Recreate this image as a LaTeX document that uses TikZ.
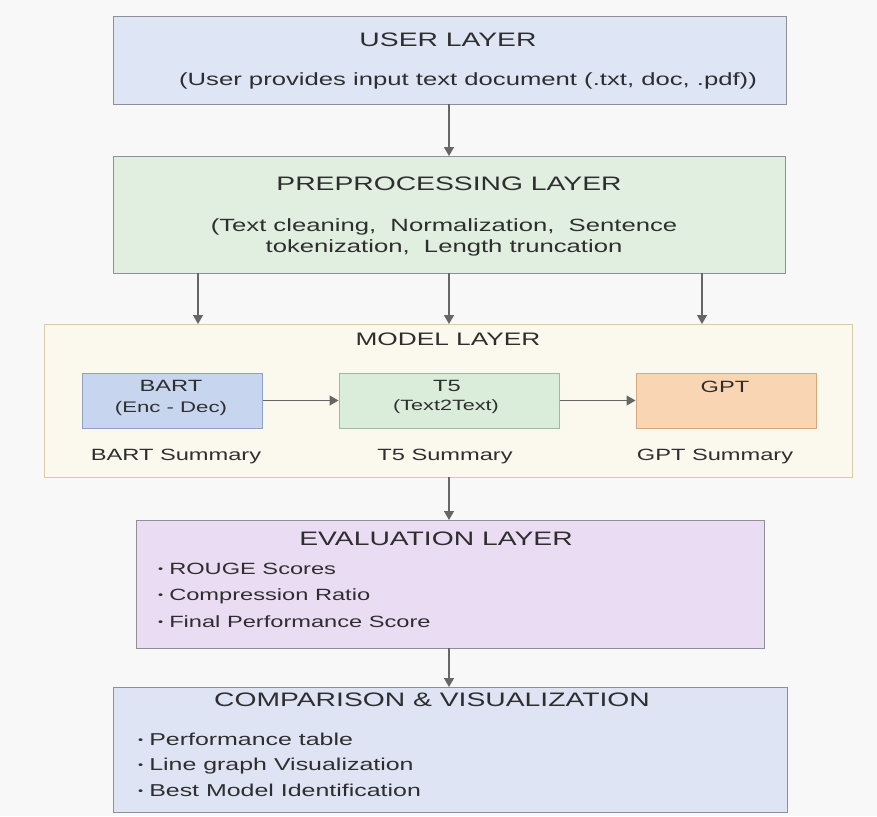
\documentclass[tikz,border=0pt]{standalone}
\usepackage{fontspec}
\setmainfont[FakeStretch=1.45]{Liberation Sans}
\usetikzlibrary{arrows.meta}
\definecolor{bgc}{HTML}{F8F8F8}
\definecolor{txt}{HTML}{2E2E2E}
\definecolor{edge}{HTML}{8E9098}
\definecolor{userfill}{HTML}{DEE5F4}
\definecolor{prefill}{HTML}{E0EFDF}
\definecolor{modfill}{HTML}{FBF8EE}
\definecolor{modedge}{HTML}{D8CBA8}
\definecolor{bartfill}{HTML}{C7D5EF}
\definecolor{bartedge}{HTML}{8FA0C2}
\definecolor{tfivefill}{HTML}{DAEDDA}
\definecolor{tfiveedge}{HTML}{9DBA9D}
\definecolor{gptfill}{HTML}{F9D5B3}
\definecolor{gptedge}{HTML}{D4A982}
\definecolor{evalfill}{HTML}{EADCF2}
\definecolor{cmpfill}{HTML}{DEE4F3}
\definecolor{arr}{HTML}{666666}
\newcommand{\bul}{\raisebox{1.5pt}{\fontsize{10}{10}\selectfont •}\hspace{6pt}}
\tikzset{
  layer/.style={draw=edge, line width=1pt},
  ttl/.style={text=txt, font=\fontsize{19.5}{22}\selectfont, inner sep=0pt},
  body/.style={text=txt, font=\fontsize{17.7}{21}\selectfont, inner sep=0pt, align=center},
  item/.style={text=txt, font=\fontsize{16.3}{20}\selectfont, inner sep=0pt, anchor=base west},
  lbl/.style={text=txt, font=\fontsize{16.3}{20}\selectfont, inner sep=0pt},
  mbox/.style={line width=1pt, minimum height=55pt, inner sep=0pt},
  conn/.style={draw=arr, line width=1.4pt, -{Triangle[length=9pt,width=10pt]}},
}
\begin{document}
\begin{tikzpicture}[x=1pt,y=-1pt]
\fill[bgc] (0,0) rectangle (877,816);
\useasboundingbox (0,0) rectangle (877,816);
% user layer
\draw[layer, fill=userfill] (113,17) rectangle (786,104);
\node[coordinate] (userB) at (449,104) {};
\node[ttl] (usert) at (448,40) {USER LAYER};
\node[body] (users) at (468,81) {(User provides input text document (.txt, doc, .pdf))};
% preprocessing
\draw[layer, fill=prefill] (113,156) rectangle (785,273);
\node[coordinate] (preT) at (449,156) {};
\node[ttl] (pret) at (449,184) {PREPROCESSING LAYER};
\node[body] (pres) at (444,237.5) {(Text cleaning,\ \ Normalization,\ \ Sentence\\tokenization,\ \ Length truncation};
% model layer
\draw[draw=modedge, line width=1pt, fill=modfill] (44,324) rectangle (852,477);
\node[ttl, font=\fontsize{18.1}{22}\selectfont] (modt) at (448,339) {MODEL LAYER};
\node[coordinate] (p1) at (198,273) {};
\node[coordinate] (p2) at (449,273) {};
\node[coordinate] (p3) at (702,273) {};
\node[coordinate] (m1) at (198,324) {};
\node[coordinate] (m2) at (449,324) {};
\node[coordinate] (m3) at (702,324) {};
\node[mbox, draw=bartedge, fill=bartfill, minimum width=180pt] (bart) at (172,400.5) {};
\node[mbox, draw=tfiveedge, fill=tfivefill, minimum width=220pt] (t5) at (449,400.5) {};
\node[mbox, draw=gptedge, fill=gptfill, minimum width=180pt] (gpt) at (726,400.5) {};
\node[lbl] (bartn) at (171,386) {BART};
\node[lbl, font=\fontsize{15.3}{19}\selectfont] (bartd) at (171,408.5) {(Enc - Dec)};
\node[lbl] (t5n) at (447,386) {T5};
\node[lbl, font=\fontsize{14.9}{19}\selectfont] (t5d) at (446,407) {(Text2Text)};
\node[lbl] (gptn) at (725,387) {GPT};
\node[lbl] (barts) at (176,456) {BART Summary};
\node[lbl] (t5s) at (445,456) {T5 Summary};
\node[lbl] (gpts) at (715,456) {GPT Summary};
\node[coordinate] (modB) at (449,477) {};
% evaluation
\draw[layer, fill=evalfill] (136,520) rectangle (764,648);
\node[coordinate] (evT) at (449,520) {};
\node[coordinate] (evB) at (449,648) {};
\node[ttl] (evt) at (436,539) {EVALUATION LAYER};
\node[item] (e1) at (158,574) {\bul ROUGE Scores};
\node[item] (e2) at (158,600) {\bul Compression Ratio};
\node[item] (e3) at (158,627) {\bul Final Performance Score};
% comparison
\draw[layer, fill=cmpfill] (113,687) rectangle (787,812);
\node[coordinate] (cmT) at (449,687) {};
\node[ttl] (cmt) at (432,700) {COMPARISON \& VISUALIZATION};
\node[item, font=\fontsize{17.2}{20}\selectfont] (c1) at (138,745) {\bul Performance table};
\node[item, font=\fontsize{17.2}{20}\selectfont] (c2) at (138,770) {\bul Line graph Visualization};
\node[item, font=\fontsize{17.2}{20}\selectfont] (c3) at (138,796) {\bul Best Model Identification};
% connectors
\draw[conn] (userB) -- (preT);
\draw[conn] (p1) -- (m1);
\draw[conn] (p2) -- (m2);
\draw[conn] (p3) -- (m3);
\draw[conn] (bart) -- (t5);
\draw[conn] (t5) -- (gpt);
\draw[conn] (modB) -- (evT);
\draw[conn] (evB) -- (cmT);
\end{tikzpicture}
\end{document}
